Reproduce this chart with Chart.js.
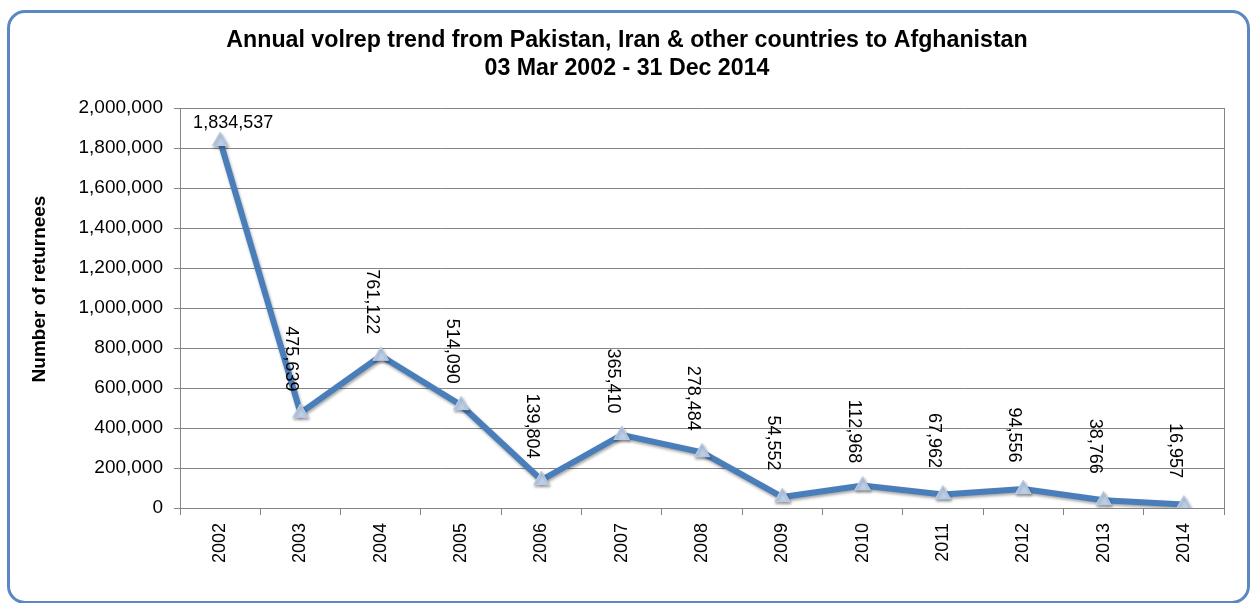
<!DOCTYPE html>
<html><head><meta charset="utf-8">
<script src="https://cdn.jsdelivr.net/npm/chart.js@4.4.0/dist/chart.umd.min.js"></script>
<style>
html,body{margin:0;padding:0;background:#fff;}
#wrap{position:relative;width:1255px;height:603px;overflow:hidden;background:#fff;}
#frame{position:absolute;left:7px;top:10px;width:1237px;height:588px;border:3px solid #5b87c4;border-radius:18px;}
canvas{position:absolute;left:0;top:0;}
</style></head>
<body><div id="wrap"><div id="frame"></div><canvas id="c" width="1255" height="603"></canvas></div>
<script>
const years = ['2002','2003','2004','2005','2006','2007','2008','2009','2010','2011','2012','2013','2014'];
const returnees = [1834537,475639,761122,514090,139804,365410,278484,54552,112968,67962,94556,38766,16957];
const yMin = 0, yMax = 2000000, yStep = 200000;
const titleLines = ['Annual volrep trend from Pakistan, Iran & other countries to Afghanistan','03 Mar 2002 - 31 Dec 2014'];
const yTitle = 'Number of returnees';

const FONT = '"Liberation Sans", Arial, sans-serif';
const GRID = '#858585';
const fmt = v => Number(v).toLocaleString('en-US');

const decor = {
  id: 'decor',
  beforeDatasetsDraw(chart) {
    const ctx = chart.ctx, a = chart.chartArea;
    ctx.save();
    ctx.strokeStyle = GRID; ctx.lineWidth = 1;
    ctx.beginPath(); ctx.moveTo(a.right + 0.5, a.top); ctx.lineTo(a.right + 0.5, a.bottom); ctx.stroke();
    ctx.restore();
    ctx.save();
    ctx.shadowColor = 'rgba(0,0,0,0.35)';
    ctx.shadowBlur = 3; ctx.shadowOffsetX = 1; ctx.shadowOffsetY = 2;
  },
  afterDatasetsDraw(chart) {
    const ctx = chart.ctx;
    ctx.restore();
    const a = chart.chartArea;
    const meta = chart.getDatasetMeta(0);
    ctx.save();
    ctx.fillStyle = '#000';
    ctx.font = '18px ' + FONT;
    meta.data.forEach((pt, i) => {
      const txt = fmt(returnees[i]);
      const w = ctx.measureText(txt).width;
      if (pt.y - 54 - w / 2 < a.top) {
        ctx.textAlign = 'center'; ctx.textBaseline = 'alphabetic';
        ctx.fillText(txt, pt.x + 13, pt.y - 13);
      } else {
        ctx.save();
        ctx.translate(pt.x - 9, pt.y - 54);
        ctx.rotate(Math.PI / 2);
        ctx.textAlign = 'center'; ctx.textBaseline = 'middle';
        ctx.fillText(txt, 0, 0);
        ctx.restore();
      }
    });
    ctx.restore();
  },
  afterDraw(chart) {
    const ctx = chart.ctx;
    ctx.save();
    ctx.fillStyle = '#000';
    ctx.textAlign = 'center'; ctx.textBaseline = 'alphabetic';
    ctx.font = 'bold 23.2px ' + FONT;
    ctx.fillText(titleLines[0], 627, 47);
    ctx.fillText(titleLines[1], 627, 75);
    ctx.font = 'bold 19px ' + FONT;
    ctx.translate(45, 289);
    ctx.rotate(-Math.PI / 2);
    ctx.fillText(yTitle, 0, 0);
    ctx.restore();
  }
};

new Chart(document.getElementById('c'), {
  type: 'line',
  data: {
    labels: years,
    datasets: [{
      data: returnees,
      borderColor: '#4a7ebb',
      borderWidth: 6,
      pointStyle: 'triangle',
      pointRadius: 9,
      pointBackgroundColor: '#bccfe8',
      pointBorderColor: '#bccfe8',
      pointBorderWidth: 1,
      tension: 0,
      fill: false
    }]
  },
  options: {
    responsive: false,
    animation: false,
    layout: { padding: { top: 108, right: 31, bottom: 0, left: 0 } },
    plugins: { legend: { display: false }, title: { display: false }, tooltip: { enabled: false } },
    scales: {
      x: {
        type: 'category',
        offset: true,
        grid: { offset: true, drawOnChartArea: false, drawTicks: true, tickLength: 7, color: GRID, lineWidth: 1 },
        border: { display: true, color: GRID },
        ticks: { minRotation: 90, maxRotation: 90, autoSkip: false, padding: 8, color: '#000', font: { family: FONT, size: 18 } },
        afterFit(s) { s.height = 95; }
      },
      y: {
        min: yMin, max: yMax,
        grid: { color: GRID, lineWidth: 1, tickLength: 6 },
        border: { display: true, color: GRID },
        ticks: { stepSize: yStep, padding: 11, color: '#000', font: { family: FONT, size: 19 }, callback: v => fmt(v) },
        afterFit(s) { s.width = 180; }
      }
    }
  },
  plugins: [decor]
});
</script>
</body></html>
